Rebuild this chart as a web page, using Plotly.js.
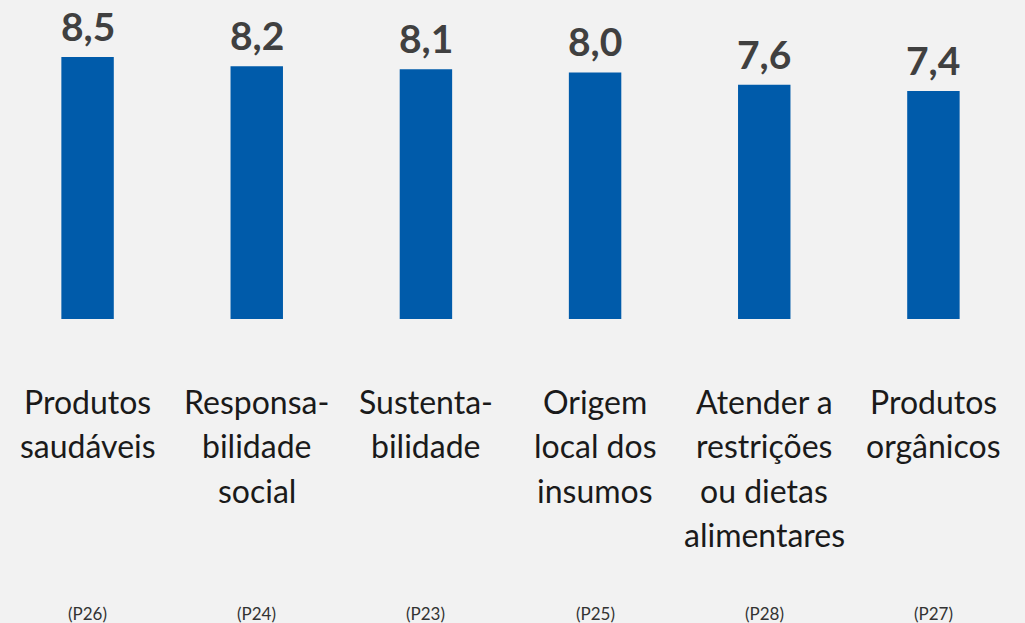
<!DOCTYPE html>
<html>
<head>
<meta charset="utf-8">
<script src="https://cdn.plot.ly/plotly-3.0.1.min.js"></script>
<style>html,body{margin:0;padding:0;background:#f2f2f2;}#chart{width:1025px;height:623px;}</style>
</head>
<body>
<div id="chart"></div>
<script>
const categories = ["Produtos<br>saudáveis", "Responsa-<br>bilidade<br>social", "Sustenta-<br>bilidade", "Origem<br>local dos<br>insumos", "Atender a<br>restrições<br>ou dietas<br>alimentares", "Produtos<br>orgânicos"];
const codes = ["(P26)", "(P24)", "(P23)", "(P25)", "(P28)", "(P27)"];
const values = [8.5, 8.2, 8.1, 8.0, 7.6, 7.4];

const FONT = "Lato, 'Open Sans', sans-serif";
const keys = categories.map((c, i) => "c" + i);

const annotations = [];
categories.forEach((c, i) => {
  c.split("<br>").forEach((line, j) => {
    annotations.push({
      x: keys[i], xref: "x", y: 0, yref: "paper",
      yanchor: "middle", yshift: -82 - 44.5 * j,
      text: line, showarrow: false,
      font: {family: FONT, size: 32, color: "#1a1a1a"}
    });
  });
  annotations.push({
    x: keys[i], xref: "x", y: 0, yref: "paper",
    yanchor: "middle", yshift: -294,
    text: codes[i], showarrow: false,
    font: {family: FONT, size: 17, color: "#333333"}
  });
  annotations.push({
    x: keys[i], xref: "x", y: values[i], yref: "y",
    yanchor: "bottom", yshift: 6,
    text: values[i].toFixed(1).replace(".", ","), showarrow: false,
    font: {family: FONT, size: 39, color: "#404040", weight: 700}
  });
});

const trace = {
  type: "bar",
  x: keys,
  y: values,
  marker: {color: "#005BAA"},
  hoverinfo: "none"
};

const layout = {
  width: 1025, height: 623,
  paper_bgcolor: "#f2f2f2", plot_bgcolor: "#f2f2f2",
  margin: {l: 3, r: 7, t: 20, b: 304},
  bargap: 0.69,
  showlegend: false,
  xaxis: {type: "category", showticklabels: false, showgrid: false, zeroline: false, showline: false, ticks: ""},
  yaxis: {range: [0, 9.7], visible: false, showgrid: false, zeroline: false},
  annotations: annotations
};

Plotly.newPlot("chart", [trace], layout, {displayModeBar: false, staticPlot: true});
</script>
</body>
</html>
